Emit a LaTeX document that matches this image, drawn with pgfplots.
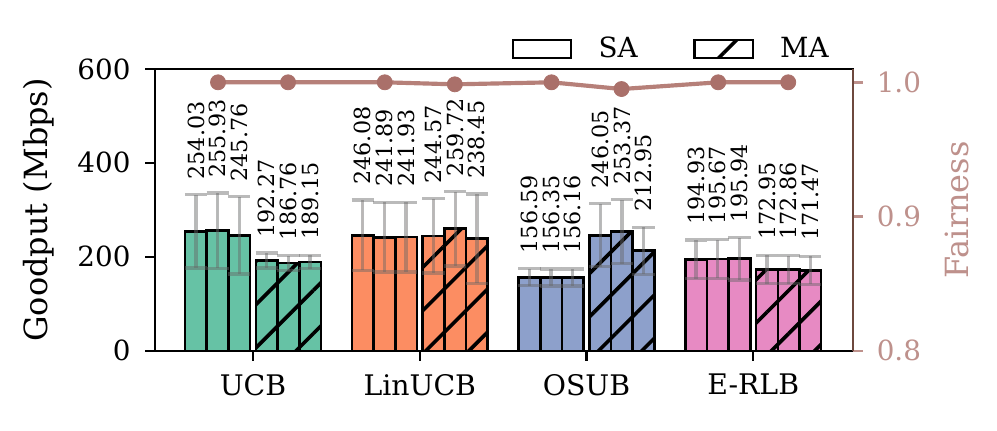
\documentclass[border=0pt]{standalone}
\usepackage{pgfplots}
\pgfplotsset{compat=1.18}
\usepackage{pgfplotstable}
\usepackage{fontspec}
\setmainfont{DejaVu Serif}
\usetikzlibrary{patterns.meta}

\definecolor{c1}{HTML}{66C2A5}
\definecolor{c2}{HTML}{FC8D62}
\definecolor{c3}{HTML}{8DA0CB}
\definecolor{c4}{HTML}{E78AC3}
\definecolor{fairline}{RGB}{182,128,121}
\definecolor{fairmark}{RGB}{170,112,106}
\definecolor{fairtext}{RGB}{190,145,140}
\definecolor{fairspine}{RGB}{110,72,62}

% rows 0-2: SA, rows 3-5: MA
\pgfplotstableread{
x       y       err
-0.3425 254.03  78
-0.2125 255.93  80
-0.0825 245.76  82
0.0825  192.27  16
0.2125  186.76  16
0.3425  189.15  14
}\ucb
\pgfplotstableread{
x       y       err
0.6575  246.08  75
0.7875  241.89  74
0.9175  241.93  74
1.0825  244.57  79
1.2125  259.72  79
1.3425  238.45  95
}\linucb
\pgfplotstableread{
x       y       err
1.6575  156.59  18
1.7875  156.35  18
1.9175  156.16  18
2.0825  246.05  67
2.2125  253.37  68
2.3425  212.95  50
}\osub
\pgfplotstableread{
x       y       err
2.6575  194.93  41
2.7875  195.67  41
2.9175  195.94  45
3.0825  172.95  30
3.2125  172.86  30
3.3425  171.47  30
}\erlb

\pgfplotsset{
  bar/.style={ybar, bar width=0.13, bar shift=0pt, draw=black, line width=0.95pt, fill=#1, forget plot,
    error bars/y dir=both, error bars/y explicit,
    error bars/error bar style={line width=1.2pt, draw=black!60, opacity=0.45},
    error bars/error mark options={rotate=90, line width=1.2pt, mark size=4pt, draw=black!60, opacity=0.45}},
  hatch/.style={postaction={pattern={Lines[angle=45,distance=11pt,line width=1.3pt]}, pattern color=black}},
  barlabels/.style={draw=none, mark=none, forget plot, nodes near coords, point meta=explicit symbolic,
    nodes near coords style={rotate=90, anchor=west, inner xsep=5.4pt, inner ysep=0pt, black,
      font=\fontsize{8}{9}\selectfont}},
}

\begin{document}
\begin{tikzpicture}
\begin{axis}[
  scale only axis, width=251.3pt, height=101.5pt,
  xmin=-0.588, xmax=3.599, ymin=0, ymax=600,
  xtick={0,1,2,3}, xticklabels={UCB,LinUCB,OSUB,E-RLB},
  ytick={0,200,400,600},
  tick align=outside, xtick pos=bottom, ytick pos=left,
  major tick length=3.5pt,
  axis line style={line width=0.9pt},
  every tick/.style={black, line width=0.9pt},
  /pgf/number format/assume math mode=true,
  yticklabel style={font=\fontsize{10}{12}\selectfont, xshift=-1.8pt},
  xticklabel style={font=\fontsize{10.2}{12}\selectfont, yshift=-1.4pt},
  ylabel={Goodput (Mbps)},
  ylabel style={font=\fontsize{11.5}{13}\selectfont, at={(axis description cs:-0.1433,0.5)}, anchor=south, inner sep=0pt},
  legend style={draw=none, fill=none, inner sep=0pt, at={(axis description cs:0.51,1)}, anchor=south west, yshift=0.5pt,
    font=\fontsize{10}{12}\selectfont,
    /tikz/every odd column/.append style={column sep=7.4pt},
    /tikz/every even column/.append style={column sep=18pt}},
  legend columns=2,
]
\addlegendimage{legend image code/.code={\draw[fill=white, draw=black, line width=0.9pt] (0pt,-3.2pt) rectangle (21pt,3.2pt);}}
\addlegendentry{SA}
\addlegendimage{legend image code/.code={\draw[fill=white, draw=black, line width=0.9pt,
  postaction={pattern={Lines[angle=45,distance=11pt,line width=1.3pt]}, pattern color=black}] (0pt,-3.2pt) rectangle (21pt,3.2pt);}}
\addlegendentry{MA}

\addplot[bar=c1, skip coords between index={3}{6}] table[x=x, y=y, y error=err] {\ucb};
\addplot[bar=c1, hatch, skip coords between index={0}{3}] table[x=x, y=y, y error=err] {\ucb};
\addplot[bar=c2, skip coords between index={3}{6}] table[x=x, y=y, y error=err] {\linucb};
\addplot[bar=c2, hatch, skip coords between index={0}{3}] table[x=x, y=y, y error=err] {\linucb};
\addplot[bar=c3, skip coords between index={3}{6}] table[x=x, y=y, y error=err] {\osub};
\addplot[bar=c3, hatch, skip coords between index={0}{3}] table[x=x, y=y, y error=err] {\osub};
\addplot[bar=c4, skip coords between index={3}{6}] table[x=x, y=y, y error=err] {\erlb};
\addplot[bar=c4, hatch, skip coords between index={0}{3}] table[x=x, y=y, y error=err] {\erlb};

\addplot[barlabels] table[x=x, y expr=\thisrow{y}+\thisrow{err}, meta=y] {\ucb};
\addplot[barlabels] table[x=x, y expr=\thisrow{y}+\thisrow{err}, meta=y] {\linucb};
\addplot[barlabels] table[x=x, y expr=\thisrow{y}+\thisrow{err}, meta=y] {\osub};
\addplot[barlabels] table[x=x, y expr=\thisrow{y}+\thisrow{err}, meta=y] {\erlb};

\coordinate (bl) at (rel axis cs:0,0);
\coordinate (tr) at (rel axis cs:1,1);
\end{axis}

\begin{axis}[
  scale only axis, width=251.3pt, height=101.5pt,
  xmin=-0.588, xmax=3.599, ymin=0.8, ymax=1.01,
  axis y line*=right, axis x line=none,
  ytick={0.8,0.9,1.0},
  tick align=outside, major tick length=3.5pt,
  y axis line style={fairspine, line width=0.9pt},
  ytick style={fairtext, line width=0.9pt},
  /pgf/number format/assume math mode=true,
  yticklabel style={fairtext, font=\fontsize{10}{12}\selectfont, xshift=1.5pt,
    /pgf/number format/fixed, /pgf/number format/fixed zerofill, /pgf/number format/precision=1},
  ylabel={Fairness},
  ylabel style={fairtext, font=\fontsize{11.5}{13}\selectfont, at={(axis description cs:1.1313,0.5)}, anchor=north, inner sep=0pt},
]
\addplot[fairline, line width=1.5pt, mark=*, mark size=2.7pt,
  mark options={fill=fairmark, draw=fairmark, line width=0.3pt}] table {
x     y
-0.21 1.0
0.21  1.0
0.79  1.0
1.21  0.9985
1.79  1.0
2.21  0.995
2.79  1.0
3.21  1.0
};
\end{axis}

\pgfresetboundingbox
\useasboundingbox ([shift={(-55.8pt,-28.8pt)}]bl) rectangle ([shift={(51.8pt,24.8pt)}]tr);
\end{tikzpicture}
\end{document}
